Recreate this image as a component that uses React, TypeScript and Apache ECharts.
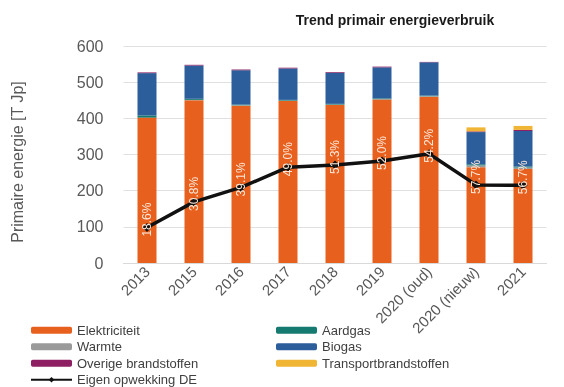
import React, { useEffect, useRef } from "react";
import * as echarts from "echarts";

const categories = ["2013", "2015", "2016", "2017", "2018", "2019", "2020 (oud)", "2020 (nieuw)", "2021"];
const elektriciteit = [402, 450, 435, 448, 437, 452, 460, 265, 260];
const warmte = [0, 1, 1, 1, 1, 1, 1, 5, 4];
const aardgas = [6, 3, 2, 2, 2, 2, 2, 3, 3];
const biogas = [117, 92, 95, 87, 86, 86, 92, 89, 98];
const overige = [2, 2, 2, 2, 2, 2, 1, 2, 3];
const transport = [0, 0, 0, 0, 0, 0, 0, 11, 11];
const eigenOpwekking = [98, 169, 209, 265, 271, 282, 302, 216, 215];
const pctLabels = ["18.6%", "30.8%", "39.1%", "49.0%", "51.3%", "52.0%", "54.2%", "57.7%", "56.7%"];
const yTicks = [0, 100, 200, 300, 400, 500, 600];

const FONT = "'Liberation Sans', Arial, sans-serif";

export default function App() {
  const ref = useRef<HTMLDivElement>(null);
  useEffect(() => {
    if (!ref.current) return;
    const chart = echarts.init(ref.current, undefined, { renderer: "svg" });
    const barSeries = (name: string, data: number[], color: string) => ({
      name,
      type: "bar",
      stack: "total",
      barWidth: 19,
      data,
      itemStyle: { color },
    });
    const legendText = { fontSize: 13, color: "#404040", fontFamily: FONT, lineHeight: 14.5 };
    chart.setOption({
      animation: false,
      textStyle: { fontFamily: FONT },
      title: {
        text: "Trend primair energieverbruik",
        left: 390,
        top: 8,
        textAlign: "center",
        textStyle: { fontSize: 14, fontWeight: "bold", color: "#1a1a1a", fontFamily: FONT },
      },
      graphic: [
        {
          type: "text",
          x: 17,
          y: 162,
          rotation: Math.PI / 2,
          style: {
            text: "Primaire energie [T Jp]",
            fontSize: 16,
            fontFamily: FONT,
            fill: "#595959",
            align: "center",
            verticalAlign: "middle",
          },
        },
      ],
      legend: [
        {
          orient: "vertical",
          left: 25,
          top: 318,
          height: 80,
          itemWidth: 41,
          itemHeight: 7,
          itemGap: 2,
          textStyle: legendText,
          data: ["Elektriciteit", "Warmte", "Overige brandstoffen", "Eigen opwekking DE"],
        },
        {
          orient: "vertical",
          left: 271,
          top: 318,
          height: 80,
          itemWidth: 41,
          itemHeight: 7,
          itemGap: 2,
          textStyle: legendText,
          data: ["Aardgas", "Biogas", "Transportbrandstoffen"],
        },
      ],
      grid: { left: 123.5, top: 46, width: 423, height: 217, outerBoundsMode: "none", containLabel: false },
      xAxis: {
        type: "category",
        data: categories,
        axisTick: { show: false },
        axisLine: { lineStyle: { color: "#D9D9D9" } },
        axisLabel: { rotate: 45, fontSize: 15, color: "#595959", margin: 6, interval: 0, fontFamily: FONT },
      },
      yAxis: {
        type: "value",
        min: yTicks[0],
        max: yTicks[yTicks.length - 1],
        interval: 100,
        axisLine: { show: false },
        axisTick: { show: false },
        splitLine: { lineStyle: { color: "#E0E0E0" } },
        axisLabel: { fontSize: 16, color: "#595959", margin: 20, fontFamily: FONT },
      },
      series: [
        barSeries("Elektriciteit", elektriciteit, "#E8601E"),
        barSeries("Warmte", warmte, "#9A9A9A"),
        barSeries("Aardgas", aardgas, "#157A70"),
        barSeries("Biogas", biogas, "#2D5E9C"),
        barSeries("Overige brandstoffen", overige, "#8E1F62"),
        barSeries("Transportbrandstoffen", transport, "#F0B534"),
        {
          name: "Eigen opwekking DE",
          type: "line",
          data: eigenOpwekking,
          symbol: "diamond",
          symbolSize: 9,
          z: 5,
          lineStyle: { color: "#111111", width: 3.5 },
          itemStyle: { color: "#111111" },
          label: {
            show: true,
            position: "inside",
            offset: [8, 0],
            rotate: 90,
            fontSize: 12,
            color: "#FCE8DA",
            fontFamily: FONT,
            formatter: (p: any) => pctLabels[p.dataIndex],
          },
        },
      ],
    });
    return () => chart.dispose();
  }, []);
  return <div ref={ref} style={{ position: "fixed", left: 0, top: 0, width: 564, height: 387 }} />;
}
